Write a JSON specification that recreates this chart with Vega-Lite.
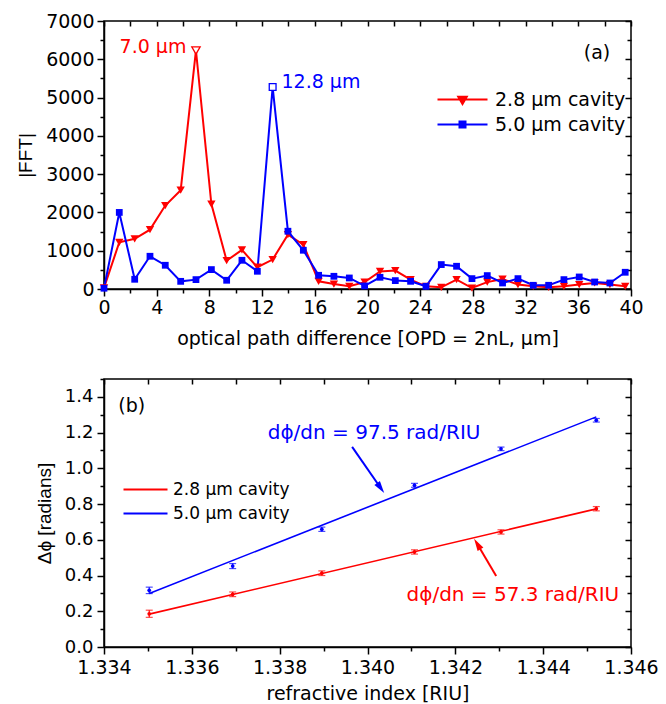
{
  "$schema": "https://vega.github.io/schema/vega-lite/v6.json",
  "background": "white",
  "padding": {"left": 15, "top": 11, "right": 5, "bottom": 2},
  "bounds": "flush",
  "spacing": 90,
  "config": {
    "font": "DejaVu Sans",
    "view": {"stroke": "black", "strokeWidth": 1.5},
    "axis": {"grid": false, "domainColor": "black", "domainWidth": 1.5, "tickColor": "black", "tickWidth": 1.5, "labelColor": "black", "labelFont": "DejaVu Sans", "labelFontSize": 19, "titleColor": "black", "titleFontWeight": "normal", "titleFont": "DejaVu Sans", "labelPadding": 2}
  },
  "resolve": {"scale": {"color": "independent", "x": "independent", "y": "independent"}, "legend": {"color": "independent"}},
  "datasets": {
    "fft": [
      {"opd": 0, "fft": 30, "series": "2.8 µm cavity"},
      {"opd": 1.16, "fft": 1220, "series": "2.8 µm cavity"},
      {"opd": 2.33, "fft": 1310, "series": "2.8 µm cavity"},
      {"opd": 3.49, "fft": 1550, "series": "2.8 µm cavity"},
      {"opd": 4.65, "fft": 2180, "series": "2.8 µm cavity"},
      {"opd": 5.82, "fft": 2580, "series": "2.8 µm cavity"},
      {"opd": 6.98, "fft": 6230, "series": "2.8 µm cavity", "peak": true},
      {"opd": 8.15, "fft": 2220, "series": "2.8 µm cavity"},
      {"opd": 9.31, "fft": 740, "series": "2.8 µm cavity"},
      {"opd": 10.47, "fft": 1020, "series": "2.8 µm cavity"},
      {"opd": 11.64, "fft": 570, "series": "2.8 µm cavity"},
      {"opd": 12.8, "fft": 770, "series": "2.8 µm cavity"},
      {"opd": 13.96, "fft": 1420, "series": "2.8 µm cavity"},
      {"opd": 15.13, "fft": 1160, "series": "2.8 µm cavity"},
      {"opd": 16.29, "fft": 200, "series": "2.8 µm cavity"},
      {"opd": 17.45, "fft": 130, "series": "2.8 µm cavity"},
      {"opd": 18.62, "fft": 70, "series": "2.8 µm cavity"},
      {"opd": 19.78, "fft": 180, "series": "2.8 µm cavity"},
      {"opd": 20.95, "fft": 460, "series": "2.8 µm cavity"},
      {"opd": 22.11, "fft": 480, "series": "2.8 µm cavity"},
      {"opd": 23.27, "fft": 245, "series": "2.8 µm cavity"},
      {"opd": 24.44, "fft": 70, "series": "2.8 µm cavity"},
      {"opd": 25.6, "fft": 44, "series": "2.8 µm cavity"},
      {"opd": 26.76, "fft": 245, "series": "2.8 µm cavity"},
      {"opd": 27.93, "fft": 26, "series": "2.8 µm cavity"},
      {"opd": 29.09, "fft": 180, "series": "2.8 µm cavity"},
      {"opd": 30.25, "fft": 260, "series": "2.8 µm cavity"},
      {"opd": 31.42, "fft": 115, "series": "2.8 µm cavity"},
      {"opd": 32.58, "fft": 70, "series": "2.8 µm cavity"},
      {"opd": 33.75, "fft": 44, "series": "2.8 µm cavity"},
      {"opd": 34.91, "fft": 70, "series": "2.8 µm cavity"},
      {"opd": 36.07, "fft": 115, "series": "2.8 µm cavity"},
      {"opd": 37.24, "fft": 157, "series": "2.8 µm cavity"},
      {"opd": 38.4, "fft": 115, "series": "2.8 µm cavity"},
      {"opd": 39.56, "fft": 70, "series": "2.8 µm cavity"},
      {"opd": 0, "fft": 20, "series": "5.0 µm cavity"},
      {"opd": 1.16, "fft": 2000, "series": "5.0 µm cavity"},
      {"opd": 2.33, "fft": 254, "series": "5.0 µm cavity"},
      {"opd": 3.49, "fft": 855, "series": "5.0 µm cavity"},
      {"opd": 4.65, "fft": 620, "series": "5.0 µm cavity"},
      {"opd": 5.82, "fft": 200, "series": "5.0 µm cavity"},
      {"opd": 6.98, "fft": 245, "series": "5.0 µm cavity"},
      {"opd": 8.15, "fft": 507, "series": "5.0 µm cavity"},
      {"opd": 9.31, "fft": 228, "series": "5.0 µm cavity"},
      {"opd": 10.47, "fft": 750, "series": "5.0 µm cavity"},
      {"opd": 11.64, "fft": 463, "series": "5.0 µm cavity"},
      {"opd": 12.8, "fft": 5275, "series": "5.0 µm cavity", "peak": true},
      {"opd": 13.96, "fft": 1509, "series": "5.0 µm cavity"},
      {"opd": 15.13, "fft": 1012, "series": "5.0 µm cavity"},
      {"opd": 16.29, "fft": 358, "series": "5.0 µm cavity"},
      {"opd": 17.45, "fft": 332, "series": "5.0 µm cavity"},
      {"opd": 18.62, "fft": 288, "series": "5.0 µm cavity"},
      {"opd": 19.78, "fft": 80, "series": "5.0 µm cavity"},
      {"opd": 20.95, "fft": 306, "series": "5.0 µm cavity"},
      {"opd": 22.11, "fft": 219, "series": "5.0 µm cavity"},
      {"opd": 23.27, "fft": 201, "series": "5.0 µm cavity"},
      {"opd": 24.44, "fft": 70, "series": "5.0 µm cavity"},
      {"opd": 25.6, "fft": 638, "series": "5.0 µm cavity"},
      {"opd": 26.76, "fft": 594, "series": "5.0 µm cavity"},
      {"opd": 27.93, "fft": 271, "series": "5.0 µm cavity"},
      {"opd": 29.09, "fft": 350, "series": "5.0 µm cavity"},
      {"opd": 30.25, "fft": 157, "series": "5.0 µm cavity"},
      {"opd": 31.42, "fft": 271, "series": "5.0 µm cavity"},
      {"opd": 32.58, "fft": 97, "series": "5.0 µm cavity"},
      {"opd": 33.75, "fft": 97, "series": "5.0 µm cavity"},
      {"opd": 34.91, "fft": 245, "series": "5.0 µm cavity"},
      {"opd": 36.07, "fft": 314, "series": "5.0 µm cavity"},
      {"opd": 37.24, "fft": 183, "series": "5.0 µm cavity"},
      {"opd": 38.4, "fft": 157, "series": "5.0 µm cavity"},
      {"opd": 39.56, "fft": 437, "series": "5.0 µm cavity"}
    ],
    "fftNotes": [
      {"opd": 3.72, "fft": 6330, "label": "7.0 µm", "series": "2.8 µm cavity"},
      {"opd": 16.47, "fft": 5418, "label": "12.8 µm", "series": "5.0 µm cavity"}
    ],
    "panelA": [{"opd": 37.42, "fft": 6177, "label": "(a)"}],
    "phase": [
      {"n": 1.33503, "phase": 0.186, "lo": 0.166, "hi": 0.206, "series": "2.8 µm cavity"},
      {"n": 1.33693, "phase": 0.295, "lo": 0.282, "hi": 0.308, "series": "2.8 µm cavity"},
      {"n": 1.33896, "phase": 0.413, "lo": 0.4, "hi": 0.426, "series": "2.8 µm cavity"},
      {"n": 1.34107, "phase": 0.532, "lo": 0.52, "hi": 0.544, "series": "2.8 µm cavity"},
      {"n": 1.34304, "phase": 0.644, "lo": 0.632, "hi": 0.656, "series": "2.8 µm cavity"},
      {"n": 1.34521, "phase": 0.774, "lo": 0.762, "hi": 0.786, "series": "2.8 µm cavity"},
      {"n": 1.33503, "phase": 0.317, "lo": 0.299, "hi": 0.335, "series": "5.0 µm cavity"},
      {"n": 1.33693, "phase": 0.453, "lo": 0.439, "hi": 0.467, "series": "5.0 µm cavity"},
      {"n": 1.33896, "phase": 0.659, "lo": 0.647, "hi": 0.671, "series": "5.0 µm cavity"},
      {"n": 1.34107, "phase": 0.905, "lo": 0.894, "hi": 0.916, "series": "5.0 µm cavity"},
      {"n": 1.34304, "phase": 1.109, "lo": 1.099, "hi": 1.119, "series": "5.0 µm cavity"},
      {"n": 1.34521, "phase": 1.269, "lo": 1.259, "hi": 1.279, "series": "5.0 µm cavity"}
    ],
    "fit": [
      {"n": 1.33503, "phase": 0.184, "series": "2.8 µm cavity"},
      {"n": 1.34521, "phase": 0.773, "series": "2.8 µm cavity"},
      {"n": 1.33503, "phase": 0.3, "series": "5.0 µm cavity"},
      {"n": 1.34521, "phase": 1.288, "series": "5.0 µm cavity"}
    ],
    "arrows": [
      {"n": 1.33965, "phase": 1.12, "n2": 1.3403, "phase2": 0.89, "series": "5.0 µm cavity"},
      {"n": 1.34293, "phase": 0.3975, "n2": 1.3425, "phase2": 0.576, "series": "2.8 µm cavity"}
    ],
    "phaseNotes": [
      {"n": 1.34015, "phase": 1.198, "label": "dϕ/dn = 97.5 rad/RIU", "series": "5.0 µm cavity"},
      {"n": 1.34331, "phase": 0.291, "label": "dϕ/dn = 57.3 rad/RIU", "series": "2.8 µm cavity"}
    ],
    "panelB": [{"n": 1.33463, "phase": 1.349, "label": "(b)"}]
  },
  "vconcat": [
    {
      "width": 527,
      "height": 268,
      "resolve": {"axis": {"x": "independent", "y": "independent"}},
      "layer": [
        {
          "data": {"name": "fft"},
          "mark": {"type": "line", "strokeWidth": 2},
          "encoding": {
            "x": {"field": "opd", "type": "quantitative", "scale": {"domain": [0, 40], "nice": false, "zero": false},
              "axis": {"orient": "bottom", "values": [0,2,4,6,8,10,12,14,16,18,20,22,24,26,28,30,32,34,36,38,40], "labelExpr": "datum.value % 4 === 0 ? datum.label : ''", "tickSize": {"condition": {"test": "datum.value % 4 === 0", "value": 7}, "value": 4}, "title": "optical path difference [OPD = 2nL, µm]", "titleFontSize": 19, "titlePadding": 12, "labelFlush": false}},
            "y": {"field": "fft", "type": "quantitative", "scale": {"domain": [0, 7000], "nice": false},
              "axis": {"orient": "left", "values": [0,500,1000,1500,2000,2500,3000,3500,4000,4500,5000,5500,6000,6500,7000], "format": "d", "labelExpr": "datum.value % 1000 === 0 ? datum.label : ''", "tickSize": {"condition": {"test": "datum.value % 1000 === 0", "value": 7}, "value": 4}, "title": "|FFT|", "titleFont": "Liberation Sans", "titleFontSize": 19, "titlePadding": 10, "labelFlush": false, "labelPadding": 3}},
            "color": {"field": "series", "type": "nominal", "scale": {"domain": ["2.8 µm cavity", "5.0 µm cavity"], "range": ["#ff0000", "#0000ff"]},
              "legend": {"title": null, "orient": "none", "legendX": 329, "legendY": 69, "padding": 0, "labelFontSize": 19, "labelColor": "black", "labelFont": "DejaVu Sans", "symbolSize": 100, "symbolStrokeWidth": 2, "labelOffset": 43, "rowPadding": 5,
                "encode": {"symbols": {"update": {
                  "shape": {"signal": "datum.value === '2.8 µm cavity' ? 'M-1,0H9M3.15,-0.55H4.85L4,0.9Z' : 'M-1,0H9M3.4,-0.6H4.6V0.6H3.4Z'"},
                  "fill": {"signal": "datum.value === '2.8 µm cavity' ? '#ff0000' : '#0000ff'"},
                  "stroke": {"signal": "datum.value === '2.8 µm cavity' ? '#ff0000' : '#0000ff'"},
                  "strokeWidth": {"value": 2},
                  "opacity": {"value": 1},
                  "fillOpacity": {"value": 1}
                }}}}}
          }
        },
        {
          "data": {"name": "fft"},
          "transform": [{"filter": "!datum.peak"}],
          "mark": {"type": "point", "filled": true, "opacity": 1},
          "encoding": {
            "x": {"field": "opd", "type": "quantitative", "axis": {"orient": "top", "values": [0,2,4,6,8,10,12,14,16,18,20,22,24,26,28,30,32,34,36,38,40], "labels": false, "domain": false, "title": null, "tickSize": -5}},
            "y": {"field": "fft", "type": "quantitative", "axis": {"orient": "right", "values": [0,500,1000,1500,2000,2500,3000,3500,4000,4500,5000,5500,6000,6500,7000], "labels": false, "domain": false, "title": null, "tickSize": {"condition": {"test": "datum.value % 1000 === 0", "value": -6}, "value": -4}}},
            "color": {"field": "series", "type": "nominal", "legend": null},
            "shape": {"condition": {"test": "datum.series === '2.8 µm cavity'", "value": "triangle-down"}, "value": "square"},
            "size": {"condition": {"test": "datum.series === '2.8 µm cavity'", "value": 70}, "value": 46}
          }
        },
        {
          "data": {"name": "fft"},
          "transform": [{"filter": "datum.peak"}],
          "mark": {"type": "point", "filled": false, "opacity": 1, "strokeWidth": 1.3},
          "encoding": {
            "x": {"field": "opd", "type": "quantitative", "axis": null},
            "y": {"field": "fft", "type": "quantitative", "axis": null},
            "color": {"field": "series", "type": "nominal", "legend": null},
            "fill": {"value": "white"},
            "shape": {"condition": {"test": "datum.series === '2.8 µm cavity'", "value": "triangle-down"}, "value": "square"},
            "size": {"condition": {"test": "datum.series === '2.8 µm cavity'", "value": 70}, "value": 46}
          }
        },
        {
          "data": {"name": "fftNotes"},
          "mark": {"type": "text", "fontSize": 19, "align": "center", "baseline": "middle"},
          "encoding": {
            "x": {"field": "opd", "type": "quantitative", "axis": null},
            "y": {"field": "fft", "type": "quantitative", "axis": null},
            "text": {"field": "label"},
            "color": {"field": "series", "type": "nominal", "legend": null}
          }
        },
        {
          "data": {"name": "panelA"},
          "mark": {"type": "text", "fontSize": 19, "align": "center", "baseline": "middle", "color": "black"},
          "encoding": {
            "x": {"field": "opd", "type": "quantitative", "axis": null},
            "y": {"field": "fft", "type": "quantitative", "axis": null},
            "text": {"field": "label"}
          }
        }
      ]
    },
    {
      "width": 527,
      "height": 268,
      "resolve": {"axis": {"x": "independent", "y": "independent"}},
      "layer": [
        {
          "data": {"name": "fit"},
          "mark": {"type": "line", "strokeWidth": 1.6},
          "encoding": {
            "x": {"field": "n", "type": "quantitative", "scale": {"domain": [1.334, 1.346], "nice": false, "zero": false},
              "axis": {"orient": "bottom", "values": [1.334,1.335,1.336,1.337,1.338,1.339,1.34,1.341,1.342,1.343,1.344,1.345,1.346], "labelExpr": "round(datum.value*1000) % 2 === 0 ? format(datum.value, '.3f') : ''", "tickSize": {"condition": {"test": "round(datum.value*1000) % 2 === 0", "value": 7}, "value": 4}, "title": "refractive index [RIU]", "titleFontSize": 19, "titlePadding": 7, "labelFlush": false, "labelPadding": 4}},
            "y": {"field": "phase", "type": "quantitative", "scale": {"domain": [0, 1.5], "nice": false},
              "axis": {"orient": "left", "values": [0,0.1,0.2,0.3,0.4,0.5,0.6,0.7,0.8,0.9,1.0,1.1,1.2,1.3,1.4,1.5], "labelExpr": "round(datum.value*10) % 2 === 0 && datum.value < 1.45 ? format(datum.value, '.1f') : ''", "tickSize": {"condition": {"test": "round(datum.value*10) % 2 === 0", "value": 7}, "value": 4}, "title": "Δϕ [radians]", "titleFont": "Liberation Sans", "titleFontSize": 19, "titlePadding": 10, "labelFlush": false, "labelPadding": 4, "labelFontSize": 18}},
            "color": {"field": "series", "type": "nominal", "scale": {"domain": ["2.8 µm cavity", "5.0 µm cavity"], "range": ["#ff0000", "#0000ff"]},
              "legend": {"title": null, "orient": "none", "legendX": 16, "legendY": 102, "padding": 0, "labelFontSize": 17, "labelColor": "black", "labelFont": "DejaVu Sans", "symbolType": "M-1,0H7.8", "symbolSize": 100, "symbolStrokeWidth": 1.8, "labelOffset": 36, "rowPadding": 6}}
          }
        },
        {
          "data": {"name": "phase"},
          "mark": {"type": "point", "filled": true, "opacity": 1, "size": 14},
          "encoding": {
            "x": {"field": "n", "type": "quantitative", "axis": {"orient": "top", "values": [1.334,1.335,1.336,1.337,1.338,1.339,1.34,1.341,1.342,1.343,1.344,1.345,1.346], "labels": false, "domain": false, "title": null, "tickSize": -5}},
            "y": {"field": "phase", "type": "quantitative", "axis": {"orient": "right", "values": [0,0.1,0.2,0.3,0.4,0.5,0.6,0.7,0.8,0.9,1.0,1.1,1.2,1.3,1.4,1.5], "labels": false, "domain": false, "title": null, "tickSize": {"condition": {"test": "round(datum.value*10) % 2 === 0", "value": -6}, "value": -4}}},
            "color": {"field": "series", "type": "nominal", "legend": null}
          }
        },
        {
          "data": {"name": "phase"},
          "mark": {"type": "errorbar", "ticks": {"size": 7}, "thickness": 1.2},
          "encoding": {
            "x": {"field": "n", "type": "quantitative", "axis": null},
            "y": {"field": "lo", "type": "quantitative", "axis": null},
            "y2": {"field": "hi"},
            "color": {"field": "series", "type": "nominal", "legend": null}
          }
        },
        {
          "data": {"name": "arrows"},
          "mark": {"type": "rule", "strokeWidth": 2},
          "encoding": {
            "x": {"field": "n", "type": "quantitative", "axis": null},
            "y": {"field": "phase", "type": "quantitative", "axis": null},
            "x2": {"field": "n2"},
            "y2": {"field": "phase2"},
            "color": {"field": "series", "type": "nominal", "legend": null}
          }
        },
        {
          "data": {"name": "arrows"},
          "mark": {"type": "point", "filled": true, "opacity": 1, "shape": "M-0.55,1L0,-1L0.55,1Z", "size": 150},
          "encoding": {
            "x": {"field": "n2", "type": "quantitative", "axis": null},
            "y": {"field": "phase2", "type": "quantitative", "axis": null},
            "angle": {"condition": {"test": "datum.series === '5.0 µm cavity'", "value": 145}, "value": 328.6},
            "color": {"field": "series", "type": "nominal", "legend": null}
          }
        },
        {
          "data": {"name": "phaseNotes"},
          "mark": {"type": "text", "fontSize": 20, "align": "center", "baseline": "middle"},
          "encoding": {
            "x": {"field": "n", "type": "quantitative", "axis": null},
            "y": {"field": "phase", "type": "quantitative", "axis": null},
            "text": {"field": "label"},
            "color": {"field": "series", "type": "nominal", "legend": null}
          }
        },
        {
          "data": {"name": "panelB"},
          "mark": {"type": "text", "fontSize": 19, "align": "center", "baseline": "middle", "color": "black"},
          "encoding": {
            "x": {"field": "n", "type": "quantitative", "axis": null},
            "y": {"field": "phase", "type": "quantitative", "axis": null},
            "text": {"field": "label"}
          }
        }
      ]
    }
  ]
}
